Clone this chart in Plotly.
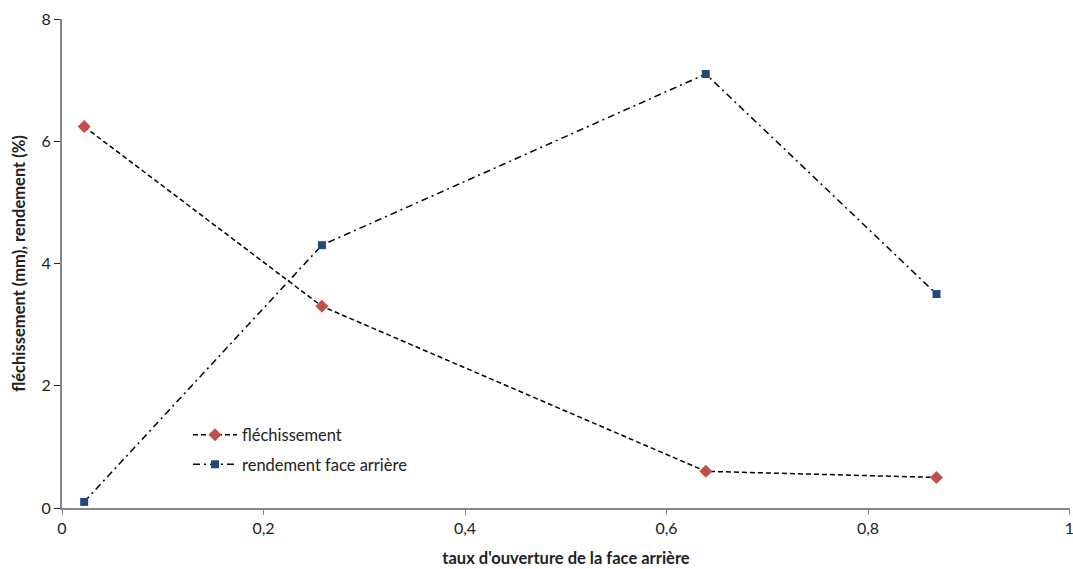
import plotly.graph_objects as go

x_vals = [0.022, 0.258, 0.639, 0.868]
flechissement = [6.24, 3.3, 0.6, 0.5]
rendement = [0.1, 4.3, 7.1, 3.5]
x_ticks = [0, 0.2, 0.4, 0.6, 0.8, 1]
x_ticklabels = ["0", "0,2", "0,4", "0,6", "0,8", "1"]
y_ticks = [0, 2, 4, 6, 8]

FONT = "Lato"

fig = go.Figure()
fig.add_trace(go.Scatter(
    x=x_vals, y=flechissement, mode="lines+markers", name="fléchissement",
    legendgroup="a",
    line=dict(color="black", width=1.5, dash="5px,3px"),
    marker=dict(symbol="diamond", size=10, color="#C0504D"),
))
fig.add_trace(go.Scatter(
    x=x_vals, y=rendement, mode="lines+markers", name="rendement face arrière",
    legendgroup="b",
    line=dict(color="black", width=1.5, dash="7px,4px,2px,4px"),
    marker=dict(symbol="square", size=8, color="#1F497D"),
))

fig.update_layout(
    width=1073, height=569,
    margin=dict(l=62, r=3, t=19, b=61),
    paper_bgcolor="white", plot_bgcolor="white",
    font=dict(family=FONT, size=16, color="#222"),
    showlegend=True,
    legend=dict(x=0.125, y=0.185, xanchor="left", yanchor="top",
                bgcolor="rgba(0,0,0,0)", font=dict(size=16.5, family=FONT),
                traceorder="grouped", tracegroupgap=5, itemwidth=44),
    xaxis=dict(
        range=[0, 1.0005], tickvals=x_ticks, ticktext=x_ticklabels, automargin=False,
        ticklabeloverflow="allow", tickfont=dict(size=16),
        showgrid=False, zeroline=False, showline=True, linecolor="#868686", linewidth=2,
        ticks="outside", ticklen=5, tickcolor="#868686",
        title=dict(text="<b>taux d'ouverture de la face arrière</b>", font=dict(size=16.5, family=FONT), standoff=16),
    ),
    yaxis=dict(
        range=[0, 8], tickvals=y_ticks, automargin=False, tickfont=dict(size=16),
        showgrid=False, zeroline=False, showline=True, linecolor="#868686", linewidth=2,
        ticks="outside", ticklen=6, tickcolor="#222",
        title=dict(text="<b>fléchissement (mm), rendement (%)</b>", font=dict(size=16.5, family=FONT), standoff=12),
    ),
)

fig.write_html("out.html", config={"displayModeBar": False},
               post_script="document.body.style.margin='0';document.body.style.overflow='hidden';")
